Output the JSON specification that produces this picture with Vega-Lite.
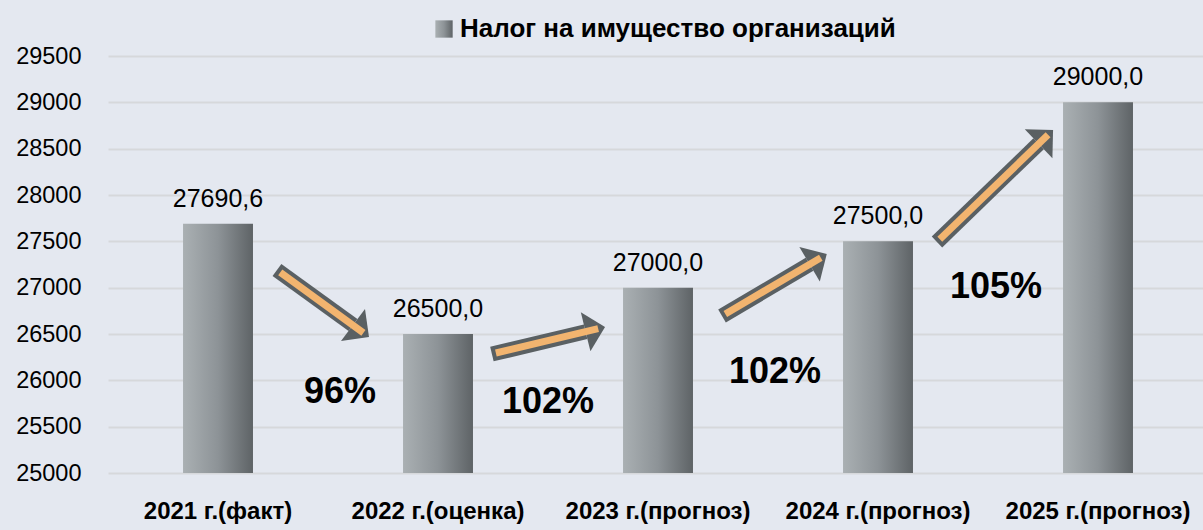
{
  "$schema": "https://vega.github.io/schema/vega-lite/v6.json",
  "width": 1100,
  "height": 417,
  "autosize": "none",
  "padding": {"left": 108, "top": 56, "right": 0, "bottom": 57},
  "background": "#E4E8F0",
  "config": {
    "view": {"stroke": null},
    "font": "Liberation Sans"
  },
  "datasets": {
    "bars": [
      {"cat": "2021 г.(факт)", "value": 27690.6, "label": "27690,6", "series": "Налог на имущество организаций"},
      {"cat": "2022 г.(оценка)", "value": 26500.0, "label": "26500,0", "series": "Налог на имущество организаций"},
      {"cat": "2023 г.(прогноз)", "value": 27000.0, "label": "27000,0", "series": "Налог на имущество организаций"},
      {"cat": "2024 г.(прогноз)", "value": 27500.0, "label": "27500,0", "series": "Налог на имущество организаций"},
      {"cat": "2025 г.(прогноз)", "value": 29000.0, "label": "29000,0", "series": "Налог на имущество организаций"}
    ],
    "arrows": [
      {"tx": 0.768, "ty": 27191, "hx": 1.1136, "hy": 26597, "ox0": 0.783, "oy0": 27165, "ox1": 1.161, "oy1": 26513, "heading": 36.9},
      {"tx": 1.745, "ty": 26284, "hx": 2.171, "hy": 26524, "ox0": 1.763, "oy0": 26295, "ox1": 2.228, "oy1": 26557, "heading": 346.1},
      {"tx": 2.791, "ty": 26694, "hx": 3.189, "hy": 27253, "ox0": 2.806, "oy0": 26716, "ox1": 3.240, "oy1": 27324, "heading": 329.3},
      {"tx": 3.768, "ty": 27493, "hx": 4.230, "hy": 28553, "ox0": 3.781, "oy0": 27523, "ox1": 4.273, "oy1": 28650, "heading": 316.3}
    ],
    "pct": [
      {"u": 1.055, "v": 25874, "text": "96%"},
      {"u": 2.0, "v": 25766, "text": "102%"},
      {"u": 3.032, "v": 26090, "text": "102%"},
      {"u": 4.036, "v": 27007, "text": "105%"}
    ]
  },
  "resolve": {"scale": {"x": "independent"}, "axis": {"x": "independent"}},
  "layer": [
    {
      "data": {"name": "bars"},
      "mark": {"type": "bar", "clip": true, "color": {"gradient": "linear", "x1": 0, "x2": 1, "y1": 0, "y2": 0,
            "stops": [{"offset": 0, "color": "#AAB0B3"}, {"offset": 0.5, "color": "#8D9397"}, {"offset": 1, "color": "#5E6366"}]}},
      "encoding": {
        "x": {
          "field": "cat", "type": "nominal", "sort": null,
          "scale": {"paddingInner": 0.682, "paddingOuter": 0.341},
          "axis": {
            "title": null, "labelAngle": 0, "domain": false, "ticks": false, "grid": false,
            "labelFont": "Liberation Sans", "labelFontWeight": "bold", "labelFontSize": 24,
            "labelColor": "#000000", "labelPadding": 26, "labelLimit": 400
          }
        },
        "y": {
          "field": "value", "type": "quantitative",
          "scale": {"domain": [25000, 29500], "zero": false, "nice": false},
          "axis": {
            "title": null, "values": [25000, 25500, 26000, 26500, 27000, 27500, 28000, 28500, 29000, 29500],
            "format": "d",
            "domain": false, "ticks": false, "labelFont": "Liberation Sans", "labelFontSize": 23.5,
            "labelColor": "#000000", "labelPadding": 27, "gridColor": "#D6D8DB", "gridWidth": 2
          }
        },
        "opacity": {
          "field": "series", "type": "nominal",
          "scale": {"range": [1]},
          "legend": {
            "title": null, "orient": "none", "legendX": 323, "legendY": -40,
            "symbolType": "square", "symbolSize": 300, "symbolStrokeWidth": 0,
            "labelFont": "Liberation Sans", "labelFontWeight": "bold", "labelFontSize": 26,
            "labelColor": "#000000", "labelLimit": 800, "labelOffset": 3
          }
        }
      }
    },
    {
      "data": {"name": "bars"},
      "mark": {"type": "text", "baseline": "alphabetic", "dy": -17, "fontSize": 25, "font": "Liberation Sans", "color": "#000000"},
      "encoding": {
        "x": {"field": "cat", "type": "nominal", "sort": null, "scale": {"paddingInner": 0.682, "paddingOuter": 0.341}, "axis": null},
        "y": {"field": "value", "type": "quantitative"},
        "text": {"field": "label"}
      }
    },
    {
      "data": {"name": "arrows"},
      "mark": {"type": "rule", "strokeWidth": 15, "color": "#5A6063", "strokeCap": "butt"},
      "encoding": {
        "x": {"field": "tx", "type": "quantitative", "scale": {"domain": [0, 5], "nice": false, "zero": false}, "axis": null},
        "y": {"field": "ty", "type": "quantitative"},
        "x2": {"field": "hx"},
        "y2": {"field": "hy"}
      }
    },
    {
      "data": {"name": "arrows"},
      "mark": {"type": "point", "shape": "M1,0L0,-1L0,1Z", "filled": true, "opacity": 1, "size": 1600, "color": "#5A6063"},
      "encoding": {
        "x": {"field": "hx", "type": "quantitative", "scale": {"domain": [0, 5], "nice": false, "zero": false}, "axis": null},
        "y": {"field": "hy", "type": "quantitative"},
        "angle": {"field": "heading", "type": "quantitative", "scale": null}
      }
    },
    {
      "data": {"name": "arrows"},
      "mark": {"type": "rule", "strokeWidth": 7, "color": "#F2B46F", "strokeCap": "butt"},
      "encoding": {
        "x": {"field": "ox0", "type": "quantitative", "scale": {"domain": [0, 5], "nice": false, "zero": false}, "axis": null},
        "y": {"field": "oy0", "type": "quantitative"},
        "x2": {"field": "ox1"},
        "y2": {"field": "oy1"}
      }
    },
    {
      "data": {"name": "pct"},
      "mark": {"type": "text", "baseline": "middle", "align": "center", "fontSize": 36, "fontWeight": "bold", "font": "Liberation Sans", "color": "#000000"},
      "encoding": {
        "x": {"field": "u", "type": "quantitative", "scale": {"domain": [0, 5], "nice": false, "zero": false}, "axis": null},
        "y": {"field": "v", "type": "quantitative"},
        "text": {"field": "text"}
      }
    }
  ]
}
